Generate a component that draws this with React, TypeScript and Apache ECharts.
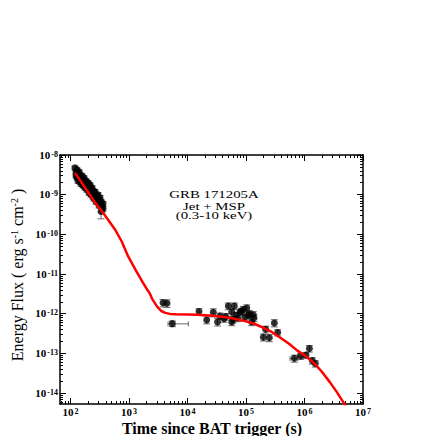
import React, { useEffect, useRef } from "react";
import * as echarts from "echarts";

// Early XRT cluster: [time (s), flux (erg s^-1 cm^-2), flux error]
const earlyPoints: number[][] = [
  [119, 4.73e-9, 0.5e-9], [124, 3.76e-9, 0.45e-9], [124, 2.99e-9, 0.35e-9],
  [129, 4.22e-9, 0.5e-9], [129, 2.66e-9, 0.3e-9], [134, 3.35e-9, 0.4e-9],
  [134, 2.24e-9, 0.3e-9], [140, 3.76e-9, 0.4e-9], [140, 2.82e-9, 0.35e-9],
  [145, 3.16e-9, 0.35e-9], [145, 2.11e-9, 0.25e-9], [151, 2.66e-9, 0.3e-9],
  [151, 1.88e-9, 0.25e-9], [157, 2.99e-9, 0.35e-9], [157, 2.24e-9, 0.25e-9],
  [164, 2.37e-9, 0.3e-9], [164, 1.68e-9, 0.2e-9], [170, 2.66e-9, 0.3e-9],
  [170, 2.0e-9, 0.25e-9], [177, 2.11e-9, 0.25e-9], [177, 1.5e-9, 0.2e-9],
  [184, 2.24e-9, 0.25e-9], [184, 1.68e-9, 0.2e-9], [191, 1.88e-9, 0.2e-9],
  [191, 1.33e-9, 0.17e-9], [199, 2.0e-9, 0.25e-9], [199, 1.5e-9, 0.18e-9],
  [207, 1.68e-9, 0.2e-9], [207, 1.12e-9, 0.15e-9], [215, 1.78e-9, 0.2e-9],
  [215, 1.33e-9, 0.16e-9], [224, 1.41e-9, 0.17e-9], [224, 1.0e-9, 0.13e-9],
  [233, 1.5e-9, 0.18e-9], [233, 1.12e-9, 0.14e-9], [242, 1.26e-9, 0.15e-9],
  [242, 8.91e-10, 1.2e-10], [252, 1.12e-9, 0.14e-9], [252, 7.94e-10, 1.0e-10],
  [262, 1.19e-9, 0.15e-9], [262, 8.91e-10, 1.1e-10], [273, 9.44e-10, 1.2e-10],
  [273, 6.68e-10, 0.9e-10], [284, 8.41e-10, 1.1e-10], [295, 1.0e-9, 0.13e-9],
  [295, 7.08e-10, 0.9e-10], [307, 7.5e-10, 1.0e-10], [307, 5.31e-10, 0.7e-10],
  [319, 8.41e-10, 1.1e-10], [319, 5.96e-10, 0.8e-10], [332, 6.68e-10, 0.9e-10],
  [345, 5.31e-10, 0.7e-10], [345, 4.22e-10, 0.6e-10], [359, 5.96e-10, 0.8e-10],
  [359, 4.47e-10, 0.6e-10], [332, 3.76e-10, 1.3e-10],
];

// Later points: [time, flux, flux error, time low, time high] (time bounds optional)
const latePoints: (number | null)[][] = [
  [3.81e3, 1.88e-12, 0.4e-12, null, null],
  [4.46e3, 1.84e-12, 0.4e-12, null, null],
  [5.5e3, 5.62e-13, 0.9e-13, 4.64e3, 1.03e4],
  [1.57e4, 1.14e-12, 0.2e-12, null, null],
  [2.13e4, 6.96e-13, 1.4e-13, null, null],
  [2.76e4, 1.08e-12, 0.25e-12, null, null],
  [3.26e4, 6.2e-13, 1.3e-13, null, null],
  [3.59e4, 8.76e-13, 1.6e-13, null, null],
  [4.21e4, 7.5e-13, 1.4e-13, null, null],
  [4.5e4, 8.5e-13, 1.6e-13, null, null],
  [4.98e4, 1.56e-12, 0.3e-12, null, null],
  [5.7e4, 1.1e-12, 0.25e-12, null, null],
  [5.7e4, 6.2e-13, 1.2e-13, null, null],
  [6.0e4, 7.2e-13, 1.4e-13, null, null],
  [6.31e4, 1.56e-12, 0.3e-12, null, null],
  [6.75e4, 9.07e-13, 1.7e-13, null, null],
  [7.2e4, 7.8e-13, 1.5e-13, null, null],
  [7.89e4, 1.1e-12, 0.2e-12, null, null],
  [8.3e4, 1.15e-12, 0.22e-12, null, null],
  [8.99e4, 1.28e-12, 0.25e-12, null, null],
  [9.5e4, 8.2e-13, 1.6e-13, null, null],
  [1.03e5, 1.39e-12, 0.28e-12, null, null],
  [1.1e5, 9.0e-13, 1.7e-13, null, null],
  [1.14e5, 1.0e-12, 0.2e-12, null, null],
  [1.25e5, 6.2e-13, 1.2e-13, null, null],
  [1.33e5, 9.44e-13, 1.8e-13, null, null],
  [1.37e5, 7.8e-13, 1.5e-13, null, null],
  [1.98e5, 2.55e-13, 0.5e-13, null, null],
  [2.17e5, 4.05e-13, 0.8e-13, null, null],
  [2.5e5, 2.47e-13, 0.5e-13, null, null],
  [3.05e5, 5.85e-13, 1.2e-13, null, null],
  [3.48e5, 3.35e-13, 0.6e-13, null, null],
  [6.7e5, 7.5e-14, 1.5e-14, 5.65e5, 7.74e5],
  [8.61e5, 8.56e-14, 1.5e-14, 7.6e5, 9.8e5],
  [1.06e6, 9.07e-14, 1.5e-14, null, null],
  [1.21e6, 1.33e-13, 0.25e-13, null, null],
  [1.36e6, 6.57e-14, 1.2e-14, null, null],
  [1.53e6, 5.53e-14, 1.0e-14, null, null],
];

// Jet + MSP model curve: [time, flux]
const modelCurve: number[][] = [
  [119, 3.55e-9], [180, 1.45e-9], [262, 6.31e-10], [370, 3.31e-10], [473, 2.0e-10],
  [575, 1.33e-10], [750, 6.6e-11], [962, 2.82e-11], [1300, 1.26e-11],
  [1734, 5.96e-12], [1995, 4.27e-12], [2286, 3.16e-12], [2512, 2.29e-12],
  [3020, 1.51e-12], [3548, 1.17e-12], [4169, 1.05e-12], [5012, 9.89e-13],
  [6310, 9.66e-13], [1.0e4, 9.55e-13], [14520, 9.44e-13], [27290, 8.91e-13],
  [53210, 7.94e-13], [1.04e5, 6.31e-13], [1.41e5, 5.5e-13], [1.954e5, 4.47e-13],
  [2.75e5, 3.47e-13], [3.81e5, 2.51e-13], [5.37e5, 1.78e-13], [7.45e5, 1.19e-13],
  [1.0e6, 8.9e-14], [1.4e6, 6.0e-14], [1.95e6, 3.55e-14], [2.73e6, 1.86e-14],
  [3.55e6, 1.07e-14], [4.6e6, 5.9e-15], [5.62e6, 3.55e-15],
];

const xMajorTicks = [1e2, 1e3, 1e4, 1e5, 1e6, 1e7];
const yMajorTicks = [1e-14, 1e-13, 1e-12, 1e-11, 1e-10, 1e-9, 1e-8];
const minorMultipliers = [2, 3, 4, 5, 6, 7, 8, 9];
const X_MIN = 66;
const X_MAX = 1e7;
const Y_MIN = 5.3e-15;
const Y_MAX = 1e-8;

const annotationLines = ["GRB 171205A", "Jet + MSP", "(0.3-10 keV)"];
const xTitle = "Time since BAT trigger (s)";
const yTitleRich = "{a|Energy Flux ( erg s}{s|-1}{a| cm}{s|-2}{a| )}";

function minorTicks(min: number, max: number): number[] {
  const out: number[] = [];
  const e0 = Math.floor(Math.log10(min));
  const e1 = Math.ceil(Math.log10(max));
  for (let e = e0; e <= e1; e++) {
    for (const m of minorMultipliers) {
      const v = m * Math.pow(10, e);
      if (v > min * 1.0001 && v < max * 0.9999) out.push(v);
    }
  }
  return out;
}

const SERIF = '"Liberation Serif", "DejaVu Serif", serif';

const labelRich = {
  b: {
    fontFamily: SERIF,
    fontWeight: "bold" as const,
    fontSize: 11,
    color: "#000",
    lineHeight: 10,
    padding: [3, 1, 0, 0],
    verticalAlign: "bottom" as const,
  },
  s: {
    fontFamily: SERIF,
    fontWeight: "bold" as const,
    fontSize: 8,
    color: "#000",
    lineHeight: 8,
    verticalAlign: "top" as const,
  },
};

const powFormatter = (v: number) => `{b|10}{s|${Math.round(Math.log10(v))}}`;

export default function App() {
  const ref = useRef<HTMLDivElement>(null);

  useEffect(() => {
    if (!ref.current) return;
    const chart = echarts.init(ref.current, null, { renderer: "svg" });

    const xMinor = minorTicks(X_MIN, X_MAX);
    const yMinor = minorTicks(Y_MIN, Y_MAX);

    const axisLine = { show: true, onZero: false, lineStyle: { color: "#000", width: 1.5 } };
    const baseX = {
      type: "log" as const,
      logBase: 10,
      min: X_MIN,
      max: X_MAX,
      splitLine: { show: false },
    };
    const baseY = {
      type: "log" as const,
      logBase: 10,
      min: Y_MIN,
      max: Y_MAX,
      splitLine: { show: false },
    };
    const majorTick = (vals: number[]) => ({
      show: true,
      inside: true,
      length: 6,
      customValues: vals,
      lineStyle: { color: "#000", width: 1 },
    });
    const minorTick = (vals: number[]) => ({
      show: true,
      inside: true,
      length: 3,
      customValues: vals,
      lineStyle: { color: "#000", width: 1 },
    });

    const errData: number[][] = [];
    earlyPoints.forEach((p) => errData.push([p[0], p[1] - p[2], p[1] + p[2], p[0], p[0]]));
    latePoints.forEach((p) => {
      const t = p[0] as number;
      const f = p[1] as number;
      const e = p[2] as number;
      errData.push([t, f - e, f + e, (p[3] ?? t) as number, (p[4] ?? t) as number]);
    });

    const scatterData = [
      ...earlyPoints.map((p) => [p[0], p[1]]),
      ...latePoints.map((p) => [p[0], p[1]]),
    ];

    chart.setOption({
      animation: false,
      backgroundColor: "#fff",
      grid: {
        left: 60,
        top: 155,
        right: 73,
        bottom: 32,
        containLabel: false,
        outerBoundsMode: "none",
      },
      xAxis: [
        {
          ...baseX,
          position: "bottom",
          axisLine,
          axisTick: majorTick(xMajorTicks),
          axisLabel: {
            show: true,
            customValues: xMajorTicks,
            formatter: powFormatter,
            rich: labelRich,
            margin: 3,
          },
        },
        { ...baseX, position: "bottom", axisLine: { show: false }, axisTick: minorTick(xMinor), axisLabel: { show: false } },
        { ...baseX, position: "top", axisLine, axisTick: majorTick(xMajorTicks), axisLabel: { show: false } },
        { ...baseX, position: "top", axisLine: { show: false }, axisTick: minorTick(xMinor), axisLabel: { show: false } },
      ],
      yAxis: [
        {
          ...baseY,
          position: "left",
          axisLine,
          axisTick: majorTick(yMajorTicks),
          axisLabel: {
            show: true,
            customValues: yMajorTicks,
            formatter: powFormatter,
            rich: labelRich,
            margin: 2,
          },
        },
        { ...baseY, position: "left", axisLine: { show: false }, axisTick: minorTick(yMinor), axisLabel: { show: false } },
        { ...baseY, position: "right", axisLine, axisTick: majorTick(yMajorTicks), axisLabel: { show: false } },
        { ...baseY, position: "right", axisLine: { show: false }, axisTick: minorTick(yMinor), axisLabel: { show: false } },
      ],
      graphic: [
        ...annotationLines.map((txt, i) => ({
          type: "text",
          x: 214,
          y: [194, 206, 215][i],
          scaleX: 1.35,
          z: 100,
          style: {
            text: txt,
            fontFamily: SERIF,
            fontSize: 11,
            fill: "#000",
            textAlign: "center",
            verticalAlign: "middle",
          },
        })),
        {
          type: "text",
          x: 212,
          y: 428,
          z: 100,
          style: {
            text: xTitle,
            fontFamily: SERIF,
            fontWeight: "bold",
            fontSize: 16,
            fill: "#000",
            textAlign: "center",
            verticalAlign: "middle",
          },
        },
        {
          type: "text",
          x: 17,
          y: 275,
          rotation: Math.PI / 2,
          z: 100,
          style: {
            text: yTitleRich,
            textAlign: "center",
            verticalAlign: "middle",
            rich: {
              a: {
                fontFamily: SERIF,
                fontSize: 16,
                fill: "#000",
                lineHeight: 16,
                padding: [5, 0, 0, 0],
                verticalAlign: "bottom",
              },
              s: {
                fontFamily: SERIF,
                fontSize: 10,
                fill: "#000",
                lineHeight: 11,
                verticalAlign: "top",
              },
            },
          },
        },
      ],
      series: [
        {
          type: "custom",
          name: "errors",
          xAxisIndex: 0,
          yAxisIndex: 0,
          z: 2,
          clip: true,
          data: errData,
          renderItem: (_params: any, api: any) => {
            const t = api.value(0);
            const lo = api.coord([t, api.value(1)]);
            const hi = api.coord([t, api.value(2)]);
            const tl = api.coord([api.value(3), api.value(1)]);
            const th = api.coord([api.value(4), api.value(1)]);
            const style = { stroke: "#6a6a6a", lineWidth: 1 };
            const cap = 3.5;
            const children: any[] = [
              { type: "line", shape: { x1: lo[0], y1: lo[1], x2: hi[0], y2: hi[1] }, style },
              { type: "line", shape: { x1: lo[0] - cap, y1: lo[1], x2: lo[0] + cap, y2: lo[1] }, style },
              { type: "line", shape: { x1: hi[0] - cap, y1: hi[1], x2: hi[0] + cap, y2: hi[1] }, style },
            ];
            if (Math.abs(th[0] - tl[0]) > 1) {
              const yc = (lo[1] + hi[1]) / 2;
              children.push(
                { type: "line", shape: { x1: tl[0], y1: yc, x2: th[0], y2: yc }, style },
                { type: "line", shape: { x1: tl[0], y1: yc - 2.5, x2: tl[0], y2: yc + 2.5 }, style },
                { type: "line", shape: { x1: th[0], y1: yc - 2.5, x2: th[0], y2: yc + 2.5 }, style }
              );
            }
            return { type: "group", children };
          },
        },
        {
          type: "scatter",
          name: "data",
          xAxisIndex: 0,
          yAxisIndex: 0,
          z: 3,
          symbol: "circle",
          symbolSize: 7,
          itemStyle: { color: "#000" },
          data: scatterData,
        },
        {
          type: "line",
          name: "Jet + MSP",
          xAxisIndex: 0,
          yAxisIndex: 0,
          z: 4,
          showSymbol: false,
          smooth: false,
          clip: true,
          lineStyle: { color: "#ff0000", width: 2.5, join: "round" },
          data: modelCurve,
        },
      ],
    });

    return () => chart.dispose();
  }, []);

  return (
    <div
      ref={ref}
      style={{ position: "absolute", left: 0, top: 0, width: 436, height: 436 }}
    />
  );
}
